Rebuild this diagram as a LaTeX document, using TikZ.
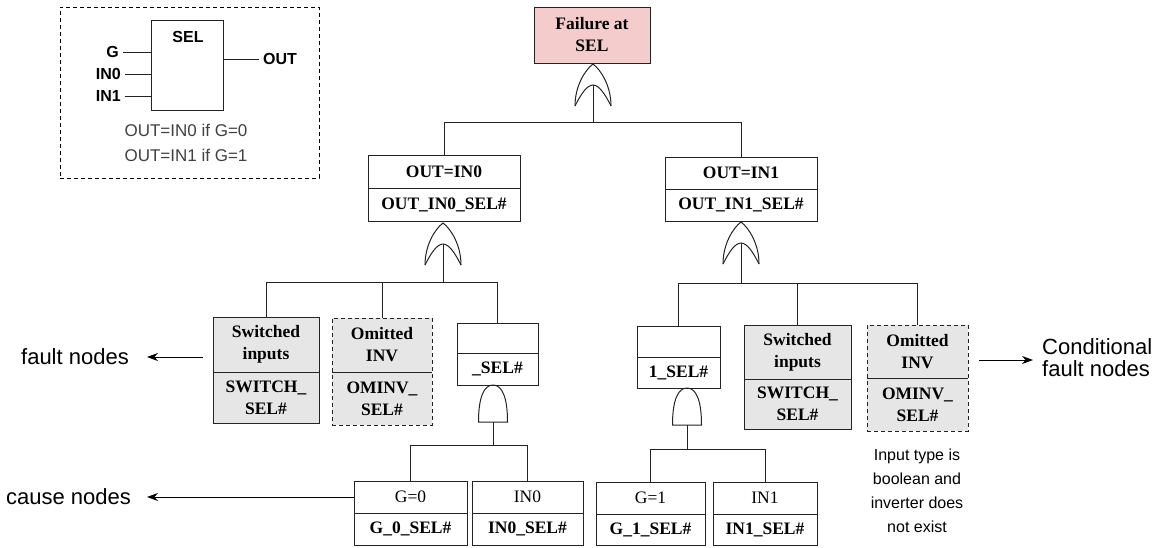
\documentclass[tikz,border=0pt]{standalone}
\usepackage{fontspec}
\setmainfont{Liberation Serif}
\setsansfont{Liberation Sans}
\usetikzlibrary{arrows.meta,fit}
\definecolor{pinkc}{RGB}{244,204,204}
\definecolor{grayc}{RGB}{230,230,230}
\definecolor{linec}{RGB}{35,35,35}
\newcommand\tbox[9]{%
  \node[#7, fit={(#2,#3) (#4,#5)}] (#1) {};
  \draw[wire] (#2,#6) -- (#4,#6);
  \node[txt] (#1t) at ({(#2+#4)/2},{(#3+#6)/2}) {#8};
  \node[txt] (#1b) at ({(#2+#4)/2},{(#6+#5)/2}) {#9};
}
\begin{document}
\begin{tikzpicture}[x=1pt,y=-1pt,
  wire/.style={draw=linec, line width=1pt},
  box/.style={draw=linec, line width=1pt, inner sep=0pt},
  graybox/.style={box, fill=grayc},
  dbox/.style={graybox, dash pattern=on 4pt off 3pt},
  txt/.style={font=\fontsize{17.5}{22}\selectfont\bfseries, align=center, inner sep=0pt, text=black},
  lbl/.style={font=\sffamily\bfseries\fontsize{16}{18}\selectfont, inner sep=4pt},
  note/.style={font=\sffamily\fontsize{17}{20}\selectfont, text=black!75, inner sep=0pt},
  big/.style={font=\sffamily\fontsize{22}{22}\selectfont, inner sep=0pt},
  arr/.style={draw=black, line width=1pt, -{Stealth[length=11pt,width=8pt]}},
  orgate/.pic={
    \draw[wire] (-18,42) .. controls (-18,22) and (-8,6) .. (0,0) .. controls (8,6) and (18,22) .. (18,42);
    \draw[wire] (-18,42) .. controls (-12,30) and (-6,21) .. (0,21) .. controls (6,21) and (12,30) .. (18,42);
    \coordinate (-in) at (0,21);},
  andgate/.pic={
    \draw[wire] (-14.5,37) .. controls (-14.5,12) and (-9,0) .. (0,0) .. controls (9,0) and (14.5,12) .. (14.5,37) -- cycle;
    \coordinate (-in) at (0,37);}
]
\useasboundingbox (0,0) rectangle (1155,547);

% ---------- inset ----------
\node[draw=black, line width=1pt, dash pattern=on 4pt off 3pt, inner sep=0pt, fit={(60,7) (319,178)}] (inset) {};
\node[box, fit={(151,20) (223,110)}] (selbox) {};
\node[lbl, inner sep=0pt] (sellbl) at (188,37) {SEL};
\node[lbl, anchor=east] (lg) at (123,52) {G};
\node[lbl, anchor=east] (lin0) at (125,74) {IN0};
\node[lbl, anchor=east] (lin1) at (125,96) {IN1};
\node[lbl, anchor=west] (lout) at (259,59) {OUT};
\draw[wire] (lg.east) -- (selbox.west |- lg.east);
\draw[wire] (lin0.east) -- (selbox.west |- lin0.east);
\draw[wire] (lin1.east) -- (selbox.west |- lin1.east);
\draw[wire] (selbox.east |- lout.west) -- (lout.west);
\node[note] (eq0) at (186,130) {OUT=IN0 if G=0};
\node[note] (eq1) at (186,155) {OUT=IN1 if G=1};

% ---------- tree ----------
\node[box, fill=pinkc, minimum width=116pt, minimum height=56pt, txt] (top) at (592,35) {Failure at\\SEL};

\tbox{n0}{368}{155}{520}{221}{188}{box}{OUT=IN0}{OUT\_IN0\_SEL\#}
\tbox{n1}{665}{157}{817}{221}{189}{box}{OUT=IN1}{OUT\_IN1\_SEL\#}
\tbox{swL}{213}{317}{319}{423}{372}{graybox}{Switched\\inputs}{SWITCH\_\\SEL\#}
\tbox{omL}{332}{318}{432}{425}{372}{dbox}{Omitted\\INV}{OMINV\_\\SEL\#}
\tbox{selz}{457}{323}{538}{385}{353}{box}{}{\_SEL\#}
\tbox{selo}{637}{326}{720}{388}{357}{box}{}{1\_SEL\#}
\tbox{swR}{744}{325}{851}{429}{379}{graybox}{Switched\\inputs}{SWITCH\_\\SEL\#}
\tbox{omR}{867}{325}{968}{431}{378}{dbox}{Omitted\\INV}{OMINV\_\\SEL\#}
\tbox{gz}{354}{481}{467}{545}{513}{box}{\mdseries G=0}{G\_0\_SEL\#}
\tbox{inz}{472}{481}{583}{545}{513}{box}{\mdseries IN0}{IN0\_SEL\#}
\tbox{go}{596}{482}{705}{545}{514}{box}{\mdseries G=1}{G\_1\_SEL\#}
\tbox{ino}{713}{482}{817}{545}{514}{box}{\mdseries IN1}{IN1\_SEL\#}

% gates
\pic (g1) at (593,64) {orgate};
\pic (g2) at (443,223) {orgate};
\pic (g3) at (741,222) {orgate};
\pic (g4) at (493,385) {andgate};
\pic (g5) at (687,388) {andgate};

% buses
\coordinate (b1) at (593,122);
\coordinate (b2) at (443,282);
\coordinate (b3) at (741,283);
\coordinate (b4) at (493,445);
\coordinate (b5) at (687,449);

\draw[wire] (g1-in) -- (b1);
\draw[wire] (b1) -| (n0.north);
\draw[wire] (b1) -| (n1.north);

\draw[wire] (g2-in) -- (b2);
\draw[wire] (b2) -| (swL.north);
\draw[wire] (b2) -| (omL.north);
\draw[wire] (b2) -| (selz.north);

\draw[wire] (g3-in) -- (b3);
\draw[wire] (b3) -| (selo.north);
\draw[wire] (b3) -| (swR.north);
\draw[wire] (b3) -| (omR.north);

\draw[wire] (g4-in) -- (b4);
\draw[wire] (b4) -| (gz.north);
\draw[wire] (b4) -| (inz.north);

\draw[wire] (g5-in) -- (b5);
\draw[wire] (b5) -| (go.north);
\draw[wire] (b5) -| (ino.north);

% ---------- side labels ----------
\node[big, anchor=east] (fault) at (129,357) {fault nodes};
\node[big, anchor=east] (cause) at (131,497) {cause nodes};
\node[big, anchor=west, align=left] (cond) at (1042,358) {Conditional\\fault nodes};
\node[font=\sffamily\fontsize{16}{24}\selectfont, align=center, inner sep=0pt] (inote) at (917,491) {Input type is\\boolean and\\inverter does\\not exist};

\coordinate (fa) at (203,357);
\coordinate (ca) at (979,360);
\draw[arr] (fa) -- ([xshift=18pt]fault.east);
\draw[arr] (gz.west |- gzt) -- ([xshift=16pt]cause.east);
\draw[arr] (ca) -- ([xshift=-9pt]cond.west |- ca);
\end{tikzpicture}
\end{document}
